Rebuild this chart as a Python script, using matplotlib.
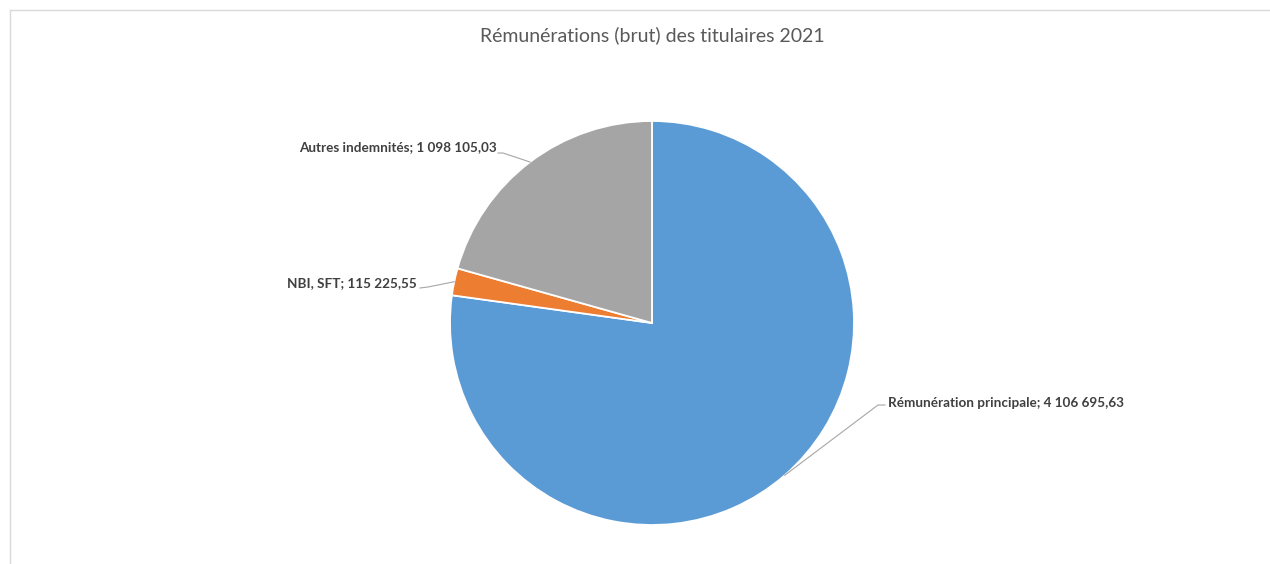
import matplotlib
matplotlib.use("Agg")
import matplotlib.pyplot as plt
import numpy as np
from matplotlib.lines import Line2D

# ---- data ----
categories = ["Rémunération principale", "NBI, SFT", "Autres indemnités"]
values = [4106695.63, 115225.55, 1098105.03]
value_labels = ["4 106 695,63", "115 225,55", "1 098 105,03"]
colors = ["#5B9BD5", "#ED7D31", "#A5A5A5"]
title = "Rémunérations (brut) des titulaires 2021"

# ---- layout (pixel coordinates, y from top) ----
W, H = 1270, 564
CX, CY, R = 652, 323, 202
# label text anchor (x, y, ha) and elbow point of leader line
label_layout = [
    (888, 403, "left", (878, 405), (885, 405)),
    (417, 283, "right", (428, 287), (420, 288)),
    (497, 147, "right", (503, 153), (498, 153)),
]

fig = plt.figure(figsize=(W / 100, H / 100), dpi=100)
ax = fig.add_axes([0, 0, 1, 1])

def fy(y):
    return H - y

wedges, _ = ax.pie(values, colors=colors, startangle=90, counterclock=False,
                   center=(CX, fy(CY)), radius=R, frame=True,
                   wedgeprops=dict(edgecolor="white", linewidth=1.3))
ax.set_xlim(0, W)
ax.set_ylim(0, H)
ax.set_aspect("equal")
ax.axis("off")

font = ["Lato", "DejaVu Sans"]
for w, cat, vl, (tx, ty, ha, elbow, tend) in zip(wedges, categories, value_labels, label_layout):
    mid = np.deg2rad((w.theta1 + w.theta2) / 2)
    ax_x = CX + R * np.cos(mid)
    ax_y = fy(CY) + R * np.sin(mid)
    ax.plot([ax_x, elbow[0], tend[0]], [ax_y, fy(elbow[1]), fy(tend[1])],
            color="#A6A6A6", lw=0.8, zorder=1)
    ax.text(tx, fy(ty), f"{cat}; {vl}", ha=ha, va="center", fontsize=9.7,
            fontweight="bold", color="#404040", family=font)

ax.text(652, fy(35), title, ha="center", va="center", fontsize=14,
        color="#595959", family=font)

# chart border
fig.add_artist(Line2D([10 / W, 1], [1 - 10 / H, 1 - 10 / H], transform=fig.transFigure,
                      color="#D9D9D9", lw=1))
fig.add_artist(Line2D([10 / W, 10 / W], [0, 1 - 10 / H], transform=fig.transFigure,
                      color="#D9D9D9", lw=1))

fig.savefig("out.png", dpi=100, facecolor="white")
